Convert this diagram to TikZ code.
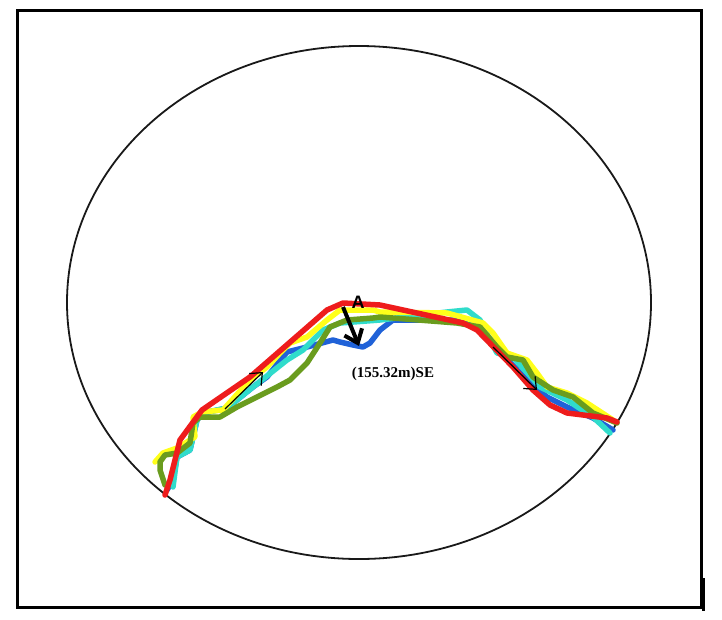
\documentclass[tikz,border=0pt]{standalone}
\usepackage{fontspec}
\setmainfont{Liberation Serif}
\newfontfamily\arialfont{Liberation Sans}
\usetikzlibrary{arrows.meta}
\definecolor{trackred}{HTML}{EE1C1C}
\definecolor{trackyellow}{HTML}{FFFF1A}
\definecolor{trackcyan}{HTML}{30DCCB}
\definecolor{trackblue}{HTML}{2062D8}
\definecolor{trackgreen}{HTML}{6A9C1E}
\tikzset{
    frame/.style={line width=3pt, draw=black},
    outline/.style={line width=1.8pt, draw=black!90},
    track/.style={line width=5.5pt, line join=round, line cap=round},
    thinarr/.style={-{Straight Barb[length=10pt, width=17pt]}, line width=1.2pt},
    thickarr/.style={-{Straight Barb[length=12pt, width=19pt]}, line width=4pt},
    lbl/.style={font=\fontsize{15}{16}\selectfont\bfseries, inner sep=0pt},
    ptlbl/.style={font=\arialfont\fontsize{18}{19}\selectfont\bfseries, inner sep=0pt},
}

\begin{document}
\begin{tikzpicture}[x=1pt, y=-1pt]

\useasboundingbox[fill=white] (0,0) rectangle (722,619);

% ================================================================
%  FRAME AND STUDY AREA
% ================================================================

\draw[frame] (17.5,10.5) rectangle (701,607.5);
\draw[line width=3.5pt] (703.5,578) -- (703.5,611);
\draw[outline] (359,302.5) ellipse [x radius=292, y radius=256.5];

% ================================================================
%  SHORELINE TRACKS
% ================================================================

\draw[track, trackblue]
    (167,490) -- (173,480) -- (177,457) -- (190,450) -- (197,420)
    -- (203,413) -- (227,408) -- (253,387) -- (267,377) -- (287,352)
    -- (307,347) -- (333,340) -- (340,342) -- (353,345) -- (363,347)
    -- (370,343) -- (380,330) -- (393,320) -- (457,320) -- (483,330)
    -- (500,352) -- (527,380) -- (547,397) -- (567,407) -- (593,418)
    -- (613,430);

\draw[track, trackcyan]
    (173,487) -- (177,457) -- (190,450) -- (197,420) -- (203,413)
    -- (227,408) -- (253,387) -- (287,360) -- (303,350) -- (323,330)
    -- (340,323) -- (380,320) -- (447,312) -- (467,310) -- (480,320)
    -- (490,340) -- (497,353) -- (513,357) -- (540,387) -- (567,400)
    -- (593,417) -- (610,433);

\draw[track, trackyellow]
    (155,462) -- (163,453) -- (177,448) -- (195,437) -- (193,417)
    -- (202,412) -- (223,410) -- (250,380) -- (267,367) -- (280,353)
    -- (290,343) -- (307,337) -- (327,320) -- (340,310) -- (373,310)
    -- (380,312) -- (447,313) -- (483,323) -- (493,333) -- (507,353)
    -- (527,360) -- (537,373) -- (547,387) -- (567,393) -- (587,403)
    -- (613,420);

\draw[track, trackgreen]
    (165,485) -- (160,470) -- (160,462) -- (165,455) -- (177,453)
    -- (190,443) -- (193,423) -- (200,417) -- (220,417) -- (237,407)
    -- (257,397) -- (277,387) -- (290,380) -- (307,363) -- (320,343)
    -- (330,327) -- (347,320) -- (373,318) -- (380,317) -- (457,323)
    -- (480,327) -- (497,347) -- (507,357) -- (523,360) -- (533,377)
    -- (553,390) -- (573,397) -- (593,413) -- (617,423);

\draw[track, trackred]
    (165,495) -- (170,480) -- (180,440) -- (202,410) -- (250,377)
    -- (327,310) -- (343,303) -- (380,305) -- (463,323) -- (477,330)
    -- (513,367) -- (533,390) -- (550,405) -- (567,413) -- (607,418)
    -- (617,422);

% ================================================================
%  MOVEMENT ARROWS AND LABELS
% ================================================================

\coordinate (leftfrom) at (225,409);
\coordinate (leftto)   at (263,372);
\coordinate (rightfrom) at (493,347);
\coordinate (rightto)   at (537,390);
\coordinate (pointA)    at (343,307);
\coordinate (shiftA)    at (359,346);

\draw[thinarr] (leftfrom) -- (leftto);
\draw[thinarr] (rightfrom) -- (rightto);
\draw[thickarr] (pointA) -- (shiftA);

\node[ptlbl] (labelA) at (358,302) {A};
\node[lbl] (shiftlbl) at (393,374) {(155.32m)SE};

\end{tikzpicture}
\end{document}
